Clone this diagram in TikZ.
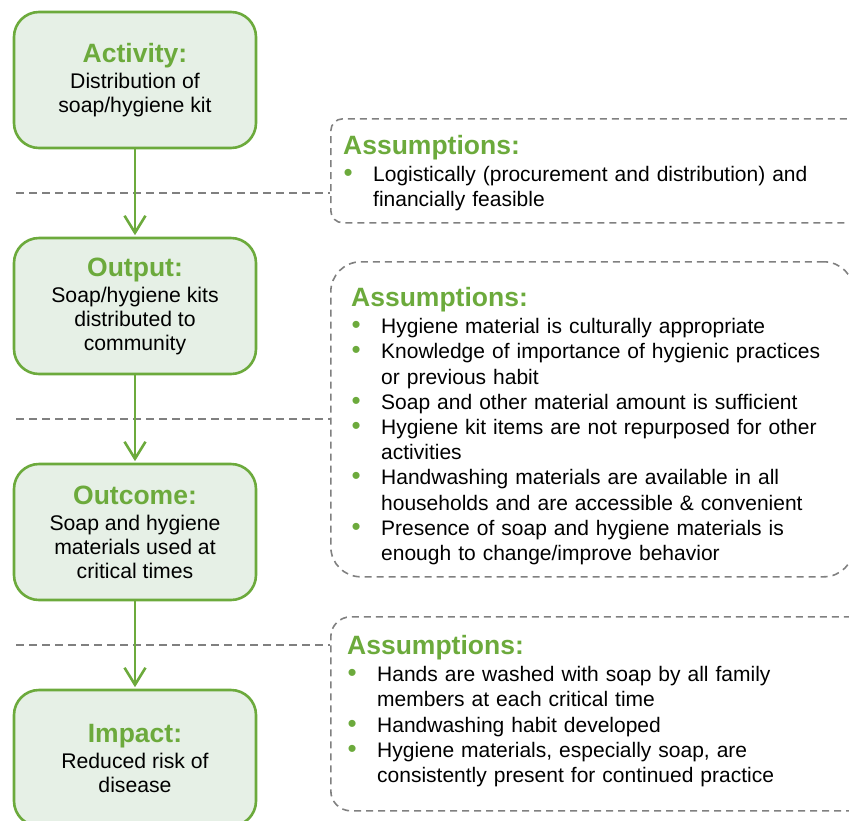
\documentclass[tikz,border=0pt]{standalone}
\usepackage{fontspec}
\setmainfont{Liberation Sans}
\usetikzlibrary{arrows.meta}
\definecolor{kgreen}{RGB}{108,170,60}
\definecolor{kfill}{RGB}{230,240,230}
\definecolor{kgray}{RGB}{128,128,128}
\newcommand{\ttlfont}{\fontsize{26.5}{30}\selectfont\bfseries\color{kgreen}}
\newcommand{\bitem}[1]{\par\noindent\hangindent=30pt\hangafter=1\makebox[30pt][l]{\hspace*{0.5pt}\textcolor{kgreen}{\fontsize{26}{25}\selectfont\textbullet}}#1}
\begin{document}
\begin{tikzpicture}[x=1pt,y=-1pt,
  stagebox/.style={draw=kgreen, line width=2.6pt, fill=kfill, rounded corners=25pt,
    minimum width=242pt, minimum height=136pt, align=center, inner sep=0pt,
    font=\fontsize{21.2}{24}\selectfont},
  asbox/.style={draw=kgray, line width=1.6pt, dash pattern=on 7pt off 5pt, anchor=north west, inner sep=0pt},
  astext/.style={anchor=north west, inner sep=0pt, text width=520pt,
    font=\fontsize{21}{25.2}\selectfont},
  flow/.style={draw=kgreen, line width=2.6pt, -{Straight Barb[length=17pt,width=21pt]}, shorten >=1.5pt},
  divider/.style={draw=kgray, line width=2.2pt, dash pattern=on 8pt off 5pt}
]
\clip (0,0) rectangle (849,820);

% stage boxes
\node[stagebox] (act) at (135,80) {{\ttlfont Activity:}\\[2pt]Distribution of\\soap/hygiene kit};
\node[stagebox] (out) at (135,306) {{\ttlfont Output:}\\[2pt]Soap/hygiene kits\\distributed to\\community};
\node[stagebox] (oc) at (135,532) {{\ttlfont Outcome:}\\[2pt]Soap and hygiene\\materials used at\\critical times};
\node[stagebox] (imp) at (135,758) {{\ttlfont Impact:}\\[2pt]Reduced risk of\\disease};

% assumption boxes
\node[asbox, rounded corners=12pt, minimum width=540pt, minimum height=104pt] (as1) at (330,118) {};
\node[asbox, rounded corners=30pt, minimum width=523pt, minimum height=315pt] (as2) at (330,261) {};
\node[asbox, rounded corners=20pt, minimum width=540pt, minimum height=194pt] (as3) at (330,616) {};

% dividers
\coordinate (d1) at (16,193);
\coordinate (d2) at (16,419);
\coordinate (d3) at (16,645);
\draw[divider] (d1) -- (d1 -| as1.west);
\draw[divider] (d2) -- (d2 -| as2.west);
\draw[divider] (d3) -- (d3 -| as3.west);

% arrows
\draw[flow] (act.south) -- (out.north);
\draw[flow] (out.south) -- (oc.north);
\draw[flow] (oc.south) -- (imp.north);

% assumption texts
\node[astext] (t1) at (343,135) {{\ttlfont Assumptions:}\par\vspace{2pt}
  \bitem{Logistically (procurement and distribution) and\newline financially feasible}\par};
\node[astext] (t2) at (351,287) {{\ttlfont Assumptions:}\par\vspace{2pt}
  \bitem{Hygiene material is culturally appropriate}
  \bitem{Knowledge of importance of hygienic practices\newline or previous habit}
  \bitem{Soap and other material amount is sufficient}
  \bitem{Hygiene kit items are not repurposed for other\newline activities}
  \bitem{Handwashing materials are available in all\newline households and are accessible \& convenient}
  \bitem{Presence of soap and hygiene materials is\newline enough to change/improve behavior}\par};
\node[astext] (t3) at (347,635) {{\ttlfont Assumptions:}\par\vspace{2pt}
  \bitem{Hands are washed with soap by all family\newline members at each critical time}
  \bitem{Handwashing habit developed}
  \bitem{Hygiene materials, especially soap, are\newline consistently present for continued practice}\par};
\end{tikzpicture}
\end{document}
